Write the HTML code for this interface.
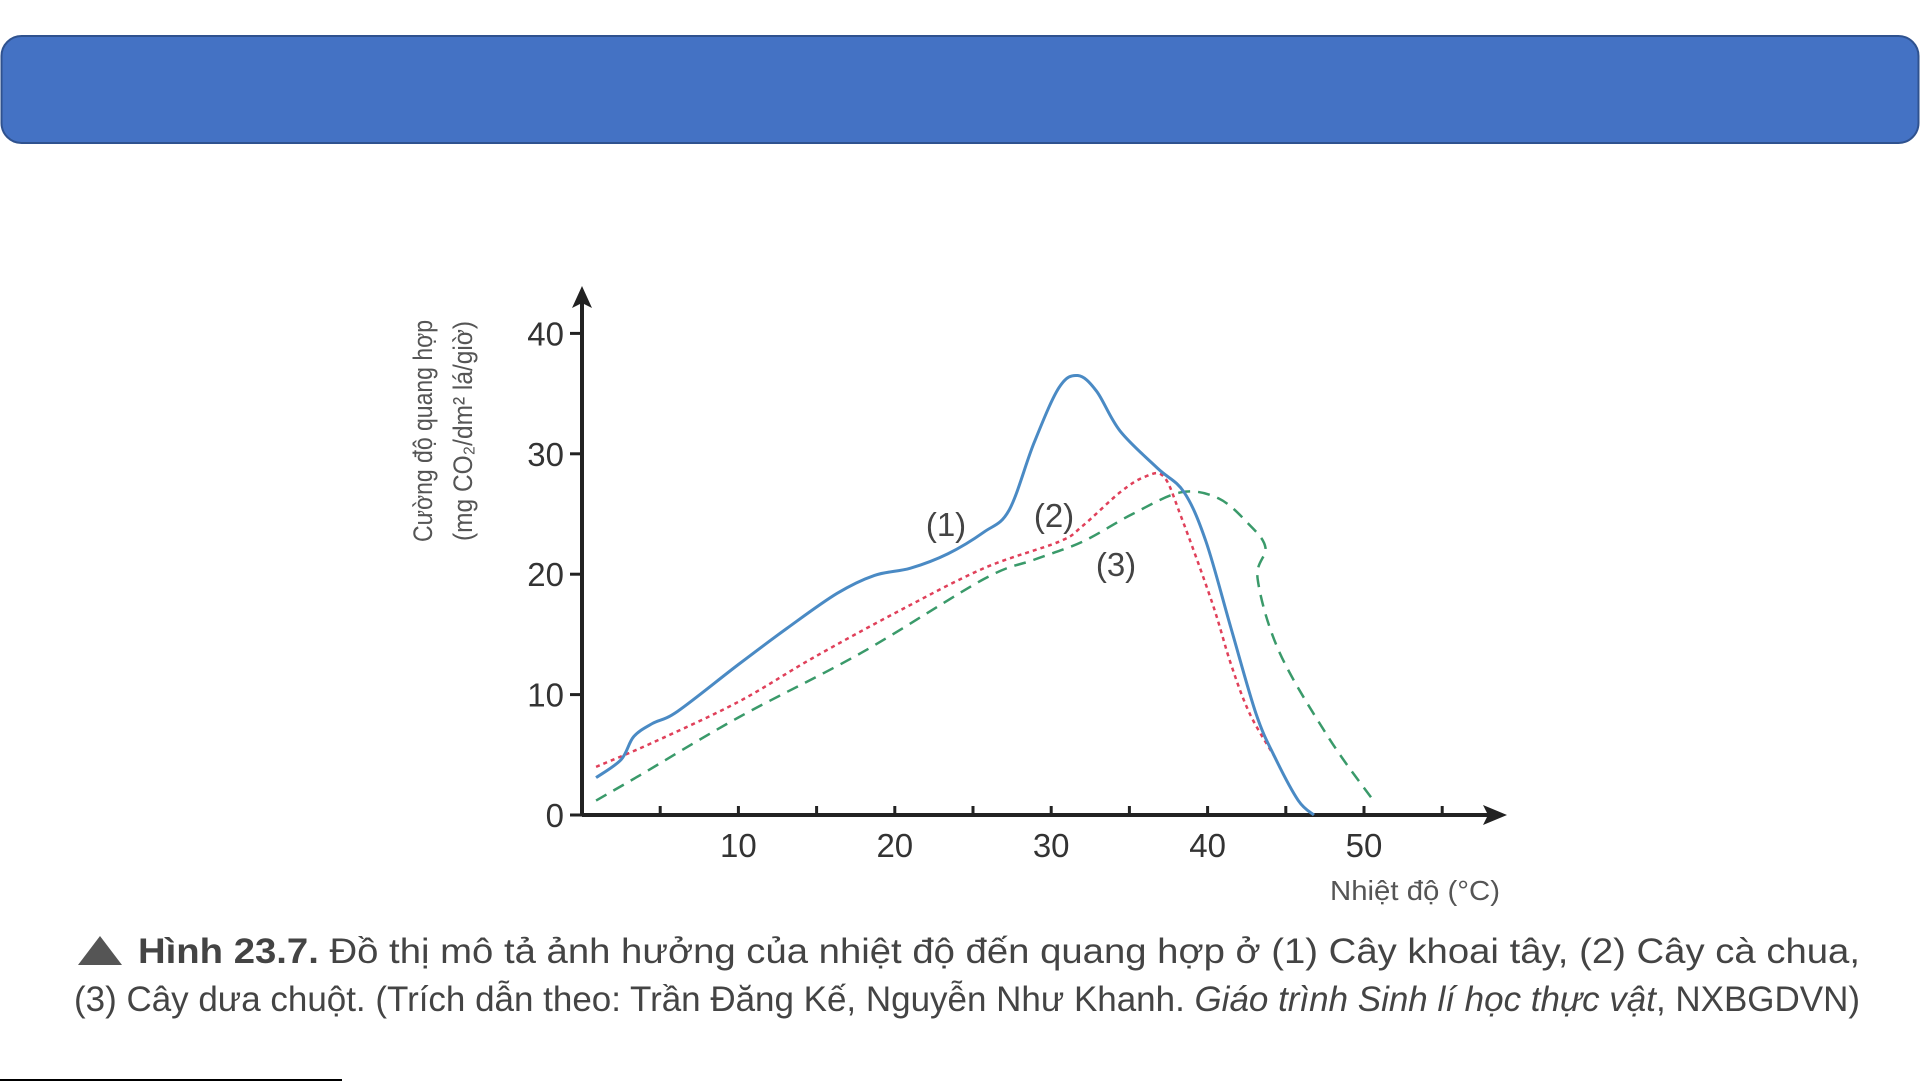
<!DOCTYPE html>
<html><head><meta charset="utf-8">
<style>
html,body{margin:0;padding:0;background:#fff;}
svg{display:block;}
text{font-family:"Liberation Sans",sans-serif;}
</style></head>
<body>
<svg id="chart" width="1921" height="1081" viewBox="0 0 1921 1081" xmlns="http://www.w3.org/2000/svg">
  <rect x="1.5" y="36" width="1917" height="107" rx="20" fill="#4472C4" stroke="#2F528F" stroke-width="2"/>
  <g id="axes"></g>
  <g id="series"></g>
  <text transform="translate(432,431) rotate(-90)" text-anchor="middle" font-size="27" fill="#555" textLength="222" lengthAdjust="spacingAndGlyphs">Cường độ quang hợp</text>
  <text transform="translate(472,431) rotate(-90)" text-anchor="middle" font-size="27" fill="#555" textLength="220" lengthAdjust="spacingAndGlyphs">(mg CO₂/dm² lá/giờ)</text>
  <text x="1330" y="900" font-size="28" fill="#555" textLength="170" lengthAdjust="spacingAndGlyphs">Nhiệt độ (°C)</text>
  <text x="946" y="536" font-size="33" fill="#444" text-anchor="middle">(1)</text>
  <text x="1054" y="527" font-size="33" fill="#444" text-anchor="middle">(2)</text>
  <text x="1116" y="576" font-size="33" fill="#444" text-anchor="middle">(3)</text>
  <path d="M78,965 L100,936 L122,965 Z" fill="#555"/>
  <text x="138" y="963" font-size="35" fill="#444" textLength="1722" lengthAdjust="spacingAndGlyphs"><tspan font-weight="bold">Hình 23.7.</tspan> Đồ thị mô tả ảnh hưởng của nhiệt độ đến quang hợp ở (1) Cây khoai tây, (2) Cây cà chua,</text>
  <text x="74" y="1011" font-size="35" fill="#444" textLength="1786" lengthAdjust="spacingAndGlyphs">(3) Cây dưa chuột. (Trích dẫn theo: Trần Đăng Kế, Nguyễn Như Khanh. <tspan font-style="italic">Giáo trình Sinh lí học thực vật</tspan>, NXBGDVN)</text>
  <line x1="0" y1="1080" x2="342" y2="1080" stroke="#000" stroke-width="2"/>
</svg>
<script>
const xTicks = [10, 20, 30, 40, 50];
const yTicks = [0, 10, 20, 30, 40];
const s1x = [0.9, 2.5, 3.3, 4.5, 6.1, 10, 13.1, 16.3, 18.7, 21, 23.4, 25.7, 27.3, 28.9, 30.5, 31.7, 32.9, 34.4, 36.8, 38.5, 39.9, 41.5, 43.1, 44.3, 45.8, 46.8];
const s1y = [3.1, 4.6, 6.5, 7.6, 8.6, 12.5, 15.5, 18.4, 19.9, 20.5, 21.7, 23.5, 25.3, 30.9, 35.5, 36.5, 35.2, 31.9, 28.8, 26.8, 22.7, 15.5, 8.4, 4.8, 1.2, 0];
const s2x = [0.9, 4.5, 10, 14.7, 20.2, 25.7, 30.5, 32, 34.4, 36, 37.2, 38.3, 40.3, 41.5, 42.7, 44.3];
const s2y = [4.0, 6.0, 9.4, 13, 16.9, 20.5, 22.7, 24, 26.8, 28.1, 28.1, 24.8, 17.6, 12.5, 8.4, 4.8];
const s3x = [0.9, 3.7, 10, 17.9, 25.7, 28.9, 32, 35.2, 38.3, 40.7, 42.6, 43.7, 43.2, 44.6, 47.8, 50.6];
const s3y = [1.2, 3.3, 8.1, 13.5, 19.6, 21.2, 22.7, 25, 26.8, 26.3, 24.2, 22.2, 19.6, 13.5, 6.3, 1.2];

const NS = "http://www.w3.org/2000/svg";
const X0 = 582, XPER = 15.64, Y0 = 815, YPER = 12.04;
const sx = v => X0 + v * XPER;
const sy = v => Y0 - v * YPER;
const axes = document.getElementById('axes');
const series = document.getElementById('series');
function mk(tag, attrs, parent) {
  const e = document.createElementNS(NS, tag);
  for (const k in attrs) e.setAttribute(k, attrs[k]);
  parent.appendChild(e);
  return e;
}
// axes lines
let xa = mk('line', {x1: X0, y1: Y0, x2: 1495, y2: Y0, stroke: '#222', 'stroke-width': 4}, axes);


let ya = mk('line', {x1: X0, y1: Y0, x2: X0, y2: 298, stroke: '#222', 'stroke-width': 4}, axes);


let xar = mk('path', {d: 'M1507,815 L1483,805 L1488,815 L1483,825 Z', fill: '#222'}, axes);


let yar = mk('path', {d: 'M582,286 L572,308 L582,303 L592,308 Z', fill: '#222'}, axes);


for (let v = 5; v <= 55; v += 5) {
  const t = mk('line', {x1: sx(v), y1: Y0, x2: sx(v), y2: Y0 - 9, stroke: '#222', 'stroke-width': 3}, axes);
  
  
}
xTicks.forEach(v => {
  const t = mk('text', {x: sx(v), y: Y0 + 42, 'font-size': 33, fill: '#333', 'text-anchor': 'middle'}, axes);
  
  
  t.textContent = v;
});
yTicks.forEach(v => {
  const l = mk('line', {x1: X0, y1: sy(v), x2: X0 - 12, y2: sy(v), stroke: '#222', 'stroke-width': 3}, axes);
  
  
  const t = mk('text', {x: X0 - 18, y: sy(v) + 12, 'font-size': 33, fill: '#333', 'text-anchor': 'end'}, axes);
  
  
  t.textContent = v;
});
function smoothPath(xs, ys) {
  const p = xs.map((x, i) => [sx(x), sy(ys[i])]);
  let d = 'M' + p[0][0] + ',' + p[0][1];
  for (let i = 0; i < p.length - 1; i++) {
    const p0 = p[Math.max(0, i - 1)], p1 = p[i], p2 = p[i + 1], p3 = p[Math.min(p.length - 1, i + 2)];
    const c1 = [p1[0] + (p2[0] - p0[0]) / 6, p1[1] + (p2[1] - p0[1]) / 6];
    const c2 = [p2[0] - (p3[0] - p1[0]) / 6, p2[1] - (p3[1] - p1[1]) / 6];
    d += ' C' + c1 + ' ' + c2 + ' ' + p2;
  }
  return d;
}
const l3 = mk('path', {d: smoothPath(s3x, s3y), fill: 'none', stroke: '#3a9a6a', 'stroke-width': 2.5, 'stroke-dasharray': '12 8'}, series);


const l2 = mk('path', {d: smoothPath(s2x, s2y), fill: 'none', stroke: '#e0405a', 'stroke-width': 2.5, 'stroke-dasharray': '4 4'}, series);


const l1 = mk('path', {d: smoothPath(s1x, s1y), fill: 'none', stroke: '#4a8ac4', 'stroke-width': 3}, series);


</script>
</body></html>
